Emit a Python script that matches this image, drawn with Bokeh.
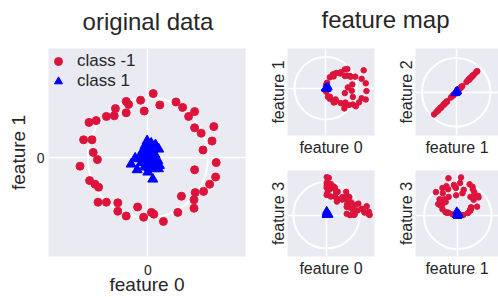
import numpy as np
from bokeh.plotting import figure
from bokeh.layouts import row, column
from bokeh.models import (FixedTicker, Label, Legend, LegendItem, Range1d,
                          ColumnDataSource)
from bokeh.embed import file_html
from bokeh.resources import INLINE

# ---------------- data ----------------
class_neg_x = [0.09, -0.12, -0.36, -0.32, -0.06, 0.20, 0.47, 0.58, 0.78, 0.68,
               -0.36, -0.54, -0.56, -0.69, -0.86, -0.98, -1.07, -0.93, -0.91, -0.84,
               -1.13, -0.97, -0.88, -0.82, -0.83, -0.69, -0.50, -0.50, -0.36, -0.17,
               -0.07, 0.06, 0.10, 0.26, 0.50, 0.56, 0.77, 0.77, 0.79, 0.93,
               1.03, 1.13, 1.14, 0.78, 0.92, 1.07, 1.10, 0.89, 0.78]
class_neg_y = [1.07, 0.96, 0.94, 0.89, 0.78, 0.88, 0.93, 0.84, 0.77, 0.69,
               0.75, 0.82, 0.70, 0.69, 0.62, 0.59, 0.30, 0.30, 0.09, -0.03,
               -0.14, -0.38, -0.44, -0.49, -0.74, -0.74, -0.75, -0.89, -0.97, -0.82,
               -0.99, -0.91, -0.94, -1.06, -0.91, -0.64, -0.70, -0.84, -0.58, -0.56,
               -0.44, -0.32, -0.08, -0.20, 0.13, 0.28, 0.52, 0.41, 0.50]

class_pos_x = [-0.011, 0.056, 0.128, 0.183, -0.044, 0.028, -0.083, 0.0, 0.083, -0.111,
               -0.028, 0.044, 0.111, -0.211, -0.139, -0.056, 0.028, 0.111, 0.167, -0.278,
               -0.111, -0.028, 0.056, 0.139, 0.194, -0.178, -0.056, 0.028, 0.111, 0.178,
               0.083, 0.0, -0.083, 0.067, 0.0, 0.05, -0.05, 0.10, -0.15, 0.12]
class_pos_y = [0.283, 0.244, 0.217, 0.144, 0.206, 0.178, 0.122, 0.122, 0.122, 0.039,
               0.050, 0.050, 0.039, -0.006, -0.017, -0.017, -0.017, -0.028, -0.044, -0.106,
               -0.083, -0.083, -0.100, -0.117, -0.128, -0.200, -0.156, -0.172, -0.183, -0.183,
               -0.356, -0.239, 0.067, -0.061, 0.0, 0.10, -0.05, -0.10, 0.0, 0.05]

legend_labels = ["class -1", "class 1"]
titles = ["original data", "feature map"]
# feature-map panels: (x feature, y feature)
panel_pairs = [(0, 1), (1, 2), (0, 3), (1, 3)]

# ---------------- style ----------------
RED = "#DC143C"
BLUE = "#0000FF"
BG = "#EAEAF2"
TXT = "#262626"
FONT = "Liberation Sans"


def features(x, y):
    x = np.asarray(x)
    y = np.asarray(y)
    # tensor-product (degree 2) feature map: x0*x0, x0*x1, x1*x0, x1*x1
    return [x * x, x * y, y * x, y * y]


def style(p, xlabel, ylabel, label_size, ticks, xstand, ystand):
    p.background_fill_color = BG
    p.border_fill_color = "white"
    p.outline_line_color = None
    for ax in (p.xaxis[0], p.yaxis[0]):
        ax.ticker = FixedTicker(ticks=ticks)
        ax.axis_line_color = None
        ax.major_tick_line_color = None
        ax.minor_tick_line_color = None
        ax.major_tick_out = 0
        ax.major_tick_in = 0
        ax.axis_label_text_font = FONT
        ax.axis_label_text_font_style = "normal"
        ax.axis_label_text_color = TXT
        ax.axis_label_text_font_size = label_size
        ax.major_label_text_font = FONT
        ax.major_label_text_font_size = "14px"
        ax.major_label_text_color = TXT
    p.xaxis[0].axis_label = xlabel
    p.yaxis[0].axis_label = ylabel
    p.xaxis[0].axis_label_standoff = xstand
    p.yaxis[0].axis_label_standoff = ystand
    p.xgrid[0].ticker = FixedTicker(ticks=[0])
    p.ygrid[0].ticker = FixedTicker(ticks=[0])
    p.grid.grid_line_color = "white"
    p.grid.grid_line_width = 1.5
    # unit reference circle
    p.ellipse(x=0, y=0, width=2, height=2, fill_color=None,
              line_color="white", line_width=2)


def header_fig(width, text, x, y):
    h = figure(width=width, height=36, x_range=Range1d(0, 1), y_range=Range1d(0, 1),
               x_axis_type=None, y_axis_type=None, output_backend="svg",
               toolbar_location=None, min_border=0)
    h.outline_line_color = None
    h.grid.visible = False
    h.add_layout(Label(x=x, y=y, x_units="screen", y_units="screen",
                       text=text, text_align="center",
                       text_baseline="alphabetic", text_font=FONT,
                       text_font_size="24px", text_color=TXT))
    return h


# ---------------- main panel ----------------
src_neg = ColumnDataSource(dict(x=class_neg_x, y=class_neg_y))
src_pos = ColumnDataSource(dict(x=class_pos_x, y=class_pos_y))

pm = figure(width=266, height=261, x_range=Range1d(-1.655, 1.628),
            y_range=Range1d(-1.645, 1.822), output_backend="svg",
            toolbar_location=None,
            min_border_left=48, min_border_right=21,
            min_border_top=12, min_border_bottom=41)
style(pm, "feature 0", "feature 1", "19px", [0], -4, 5)
pm.xaxis[0].major_label_standoff = 8
pm.yaxis[0].major_label_standoff = 4

r_neg = pm.scatter("x", "y", source=src_neg, marker="circle", size=8,
                   fill_color=RED, line_color=RED)
r_pos = pm.scatter("x", "y", source=src_pos, marker="triangle", size=10,
                   fill_color=BLUE, line_color=BLUE)

legend = Legend(items=[LegendItem(label=legend_labels[0], renderers=[r_neg]),
                       LegendItem(label=legend_labels[1], renderers=[r_pos])],
                location=(0, 165), margin=0, padding=0, spacing=0,
                glyph_width=20, glyph_height=20, label_standoff=9,
                background_fill_alpha=0, border_line_color=None,
                label_text_font=FONT, label_text_font_size="17px",
                label_text_color=TXT)
pm.add_layout(legend)

# the header frame is aligned with the main frame (starts at x=48)
left = column(header_fig(266, titles[0], 99.5, 15), pm)

# ---------------- feature map panels ----------------
fneg = features(class_neg_x, class_neg_y)
fpos = features(class_pos_x, class_pos_y)

specs = [
    # width, height, borders (l, r, t, b), xrange, yrange
    (128, 126, (21, 20, 12, 27), (-1.224, 1.556), (-1.511, 1.268)),
    (104, 126, (21, 0, 12, 27), (-1.187, 1.233), (-1.262, 1.274)),
    (128, 135, (21, 20, 8, 41), (-1.175, 1.446), (-1.244, 1.346)),
    (104, 135, (21, 0, 7, 41), (-1.251, 1.205), (-1.222, 1.352)),
]

panels = []
for (fx, fy), (w, h, (bl, br, bt, bb), xr, yr) in zip(panel_pairs, specs):
    p = figure(width=w, height=h, x_range=Range1d(*xr), y_range=Range1d(*yr),
               output_backend="svg", toolbar_location=None,
               min_border_left=bl, min_border_right=br,
               min_border_top=bt, min_border_bottom=bb)
    style(p, f"feature {fx}", f"feature {fy}", "16px", [], 3, 1)
    p.scatter(fneg[fx], fneg[fy], marker="circle", size=5.5,
              fill_color=RED, line_color=RED)
    p.scatter(fpos[fx], fpos[fy], marker="triangle", size=8,
              fill_color=BLUE, line_color=BLUE)
    panels.append(p)

right = column(header_fig(232, titles[1], 119, 17),
               row(panels[0], panels[1]), row(panels[2], panels[3]))
layout = row(left, right)

open("out.html", "w").write(file_html(layout, INLINE))
